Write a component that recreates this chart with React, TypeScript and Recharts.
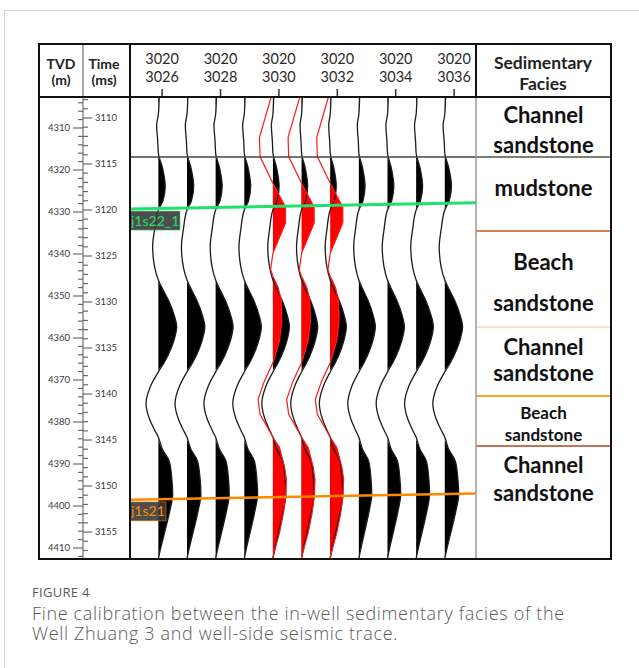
import React from 'react';
import { ComposedChart, Line, Area, XAxis, YAxis, ReferenceLine } from 'recharts';

// ---- display windows -------------------------------------------------------
const timeDomain: [number, number] = [3107.72, 3157.93]; // ms (TWT)
const depthDomain: [number, number] = [4302.62, 4412.62]; // m (TVD)
const traceDomain: [number, number] = [3025.01, 3037.09]; // crossline units, wiggle panel
const headerDomain: [number, number] = [3024.9, 3036.75]; // crossline units, header ticks

// ---- trace identification ---------------------------------------------------
const inlineNo = 3020;
const crosslines = [3026, 3027, 3028, 3029, 3030, 3031, 3032, 3033, 3034, 3035, 3036];
const labelledCrosslines = [3026, 3028, 3030, 3032, 3034, 3036];
const traceGain = [1.0, 0.97, 0.95, 0.93, 0.9, 0.88, 0.88, 0.9, 0.92, 0.94, 0.97];
const synthCrosslines = [3030, 3031, 3032];

// ---- well-side seismic wiggle (amplitude in trace spacings) -----------------
const waveTimes = [
  3107.7, 3109.6, 3110.8, 3112.6, 3113.8, 3115.5, 3117.4, 3119.0, 3120.0, 3122.1,
  3124.0, 3126.2, 3127.6, 3128.6, 3130.0, 3131.5, 3132.7, 3134.0, 3135.0, 3136.6,
  3137.6, 3139.2, 3141.0, 3142.8, 3143.8, 3144.7, 3146.0, 3147.3, 3149.2, 3150.9,
  3152.7, 3154.9, 3157.6, 3157.93,
];
const waveAmps = [
  0.03, 0.0, -0.06, -0.02, 0.0, 0.15, 0.24, 0.16, 0.0, -0.13,
  -0.2, -0.13, 0.0, 0.15, 0.38, 0.56, 0.64, 0.56, 0.45, 0.2,
  0.0, -0.28, -0.43, -0.3, -0.15, 0.0, 0.14, 0.38, 0.47, 0.5,
  0.4, 0.23, 0.02, 0.0,
];

// ---- synthetic seismogram from the well (red) --------------------------------
const synthTimes = [
  3107.7, 3112.1, 3114.2, 3117.1, 3119.7, 3121.4, 3124.7, 3126.5, 3127.2, 3128.4,
  3129.8, 3132.0, 3134.2, 3136.0, 3136.6, 3138.6, 3140.6, 3142.2, 3144.7, 3145.8,
  3148.0, 3149.3, 3151.2, 3152.9, 3155.1, 3157.7, 3157.93,
];
const synthAmps = [
  -0.06, -0.47, -0.45, 0.0, 0.44, 0.44, 0.0, -0.08, 0.0, 0.18,
  0.29, 0.31, 0.23, 0.06, 0.0, -0.3, -0.52, -0.45, 0.0, 0.23,
  0.41, 0.47, 0.44, 0.37, 0.23, 0.0, 0.0,
];

// ---- interpreted horizons (time at left and right edge of the panel) --------
const horizonNames = ['j1s22_1', 'j1s21'];
const horizonLeftTime = [3119.9, 3151.5];
const horizonRightTime = [3119.2, 3150.8];
const horizonColors = ['#22e06c', '#ff8a00'];
const horizonBoxWidth = [50, 36];

// ---- sedimentary facies column -----------------------------------------------
const faciesLabels = [
  ['Channel', 'sandstone'],
  ['mudstone'],
  ['Beach', 'sandstone'],
  ['Channel', 'sandstone'],
  ['Beach', 'sandstone'],
  ['Channel', 'sandstone'],
];
const faciesLabelDepth = [4310.48, 4324.29, 4346.79, 4365.24, 4380.48, 4393.57];
const faciesFontSize = [22, 22, 22, 22, 17, 22];
const faciesLineGap = [30, 0, 41, 26, 22, 28];
const faciesBoundaries = [4316.9, 4334.52, 4357.38, 4373.81, 4385.71];
const boundaryColors = ['#4d5a3c', '#c45a20', '#f7c6a4', '#ffa31a', '#b5431c'];
const boundaryWidths = [1.5, 1.5, 1, 2, 1.5];
const faciesTopBoundaryTime = 3114.24;

// ---- axis ticks ---------------------------------------------------------------
const depthMajorTicks = [4310, 4320, 4330, 4340, 4350, 4360, 4370, 4380, 4390, 4400, 4410];
const timeMajorTicks = [3110, 3115, 3120, 3125, 3130, 3135, 3140, 3145, 3150, 3155];
const depthTicks: number[] = [];
for (let d = 4304; d <= 4412; d += 2) depthTicks.push(d);
const timeTicks: number[] = [];
for (let t = 3108; t <= 3157; t += 1) timeTicks.push(t);

const captionTitle = 'FIGURE 4';
const captionText =
  'Fine calibration between the in-well sedimentary facies of the\nWell Zhuang 3 and well-side seismic trace.';

const FONT = 'Lato, "Open Sans", sans-serif';

const blackRows = crosslines.map((c, i) =>
  waveTimes.map((t, k) => {
    const a = waveAmps[k] * traceGain[i];
    return { t, x: c + a, fill: [c, c + Math.max(0, a)] };
  })
);
const synthRows = synthCrosslines.map((c) =>
  synthTimes.map((t, k) => {
    const a = synthAmps[k];
    return { t, x: c + a, fill: [c, c + Math.max(0, a)] };
  })
);
const faciesRows = faciesLabelDepth.map((d) => ({ d, v: 0.5 }));

const HeaderTick = (props: any) => {
  const { x, y, payload } = props;
  return (
    <g fontFamily={FONT} fontSize={14.5} fill="#2a2a2a" textAnchor="middle">
      <text x={x} y={y - 23}>{inlineNo}</text>
      <text x={x} y={y - 5}>{payload.value}</text>
    </g>
  );
};

const DepthTick = (props: any) => {
  const { x, y, payload } = props;
  const major = depthMajorTicks.includes(payload.value);
  return (
    <g>
      <line x1={major ? x - 10 : x - 5} x2={x} y1={y} y2={y} stroke="#6a6a6a" strokeWidth={1.2} />
      {major && (
        <text x={x - 13} y={y + 3.3} textAnchor="end" fontFamily={FONT} fontSize={9.5} fill="#3a3a3a">
          {payload.value}
        </text>
      )}
    </g>
  );
};

const TimeTick = (props: any) => {
  const { x, y, payload } = props;
  const major = timeMajorTicks.includes(payload.value);
  return (
    <g>
      <line x1={x} x2={major ? x + 9 : x + 5} y1={y} y2={y} stroke="#6a6a6a" strokeWidth={1.2} />
      {major && (
        <text x={x + 12} y={y + 3.3} textAnchor="start" fontFamily={FONT} fontSize={9.5} fill="#3a3a3a">
          {payload.value}
        </text>
      )}
    </g>
  );
};

const HorizonTag = (props: any) => {
  const vb = props.viewBox || {};
  const { name, color, w } = props;
  const top = vb.y + vb.height + 2;
  return (
    <g>
      <rect x={vb.x} y={top} width={w} height={19} fill="#3a3a3a" fillOpacity={0.9} stroke={color} strokeOpacity={0.5} strokeWidth={1} />
      <text x={vb.x + 1} y={top + 14.5} fontFamily={FONT} fontSize={14} fill={color}>
        {name}
      </text>
    </g>
  );
};

const FaciesText = (props: any) => {
  const vb = props.viewBox || {};
  const { lines, size, gap } = props;
  const cx = vb.x + vb.width / 2;
  const n = lines.length;
  return (
    <g fontFamily={FONT} fontWeight={700} fontSize={size} fill="#111" textAnchor="middle">
      {lines.map((s: string, i: number) => (
        <text key={i} x={cx} y={vb.y + (i - (n - 1) / 2) * gap + size * 0.36}>
          {s}
        </text>
      ))}
    </g>
  );
};

export default function App() {
  return (
    <div style={{ position: 'absolute', left: 0, top: 0, width: 639, height: 668, overflow: 'hidden', background: '#fff' }}>
      {/* card outline */}
      <div style={{ position: 'absolute', left: 4, top: 10, width: 700, height: 700, borderLeft: '1px solid #d2d2d2', borderTop: '1px solid #d2d2d2' }} />

      {/* depth / time scale */}
      <div style={{ position: 'absolute', left: 0, top: 0 }}>
        <ComposedChart width={130} height={668} margin={{ top: 97, bottom: 109, left: 43, right: 0 }}>
          <XAxis type="number" domain={[0, 1]} hide />
          <YAxis
            yAxisId="depth"
            type="number"
            domain={depthDomain}
            reversed
            allowDataOverflow
            ticks={depthTicks}
            interval={0}
            width={40}
            tickSize={0}
            tickMargin={0}
            tick={<DepthTick />}
            tickLine={false}
            axisLine={{ stroke: '#8c8c8c', strokeWidth: 1.5 }}
          />
          <YAxis
            yAxisId="time"
            type="number"
            mirror
            domain={timeDomain}
            reversed
            allowDataOverflow
            ticks={timeTicks}
            interval={0}
            tickSize={0}
            tickMargin={0}
            tick={<TimeTick />}
            tickLine={false}
            axisLine={false}
          />
        </ComposedChart>
      </div>

      {/* wiggle panel (vertical layout: time runs downward) */}
      <div style={{ position: 'absolute', left: 0, top: 0 }}>
        <ComposedChart layout="vertical" width={639} height={668} margin={{ top: 47, right: 163, bottom: 109, left: 130 }}>
          <XAxis xAxisId="trace" type="number" domain={traceDomain} allowDataOverflow hide />
          <XAxis
            xAxisId="hdr"
            orientation="top"
            type="number"
            domain={headerDomain}
            allowDataOverflow
            ticks={labelledCrosslines}
            interval={0}
            height={50}
            tickSize={8}
            tickMargin={2}
            axisLine={false}
            tickLine={{ stroke: '#333', strokeWidth: 1.5 }}
            tick={<HeaderTick />}
          />
          <YAxis yAxisId="time" type="number" dataKey="t" domain={timeDomain} allowDataOverflow hide />
          {blackRows.map((rows, i) => (
            <Area
              key={`bf${i}`}
              xAxisId="trace"
              yAxisId="time"
              data={rows}
              dataKey="fill"
              type="monotone"
              stroke="none"
              fill="#000"
              fillOpacity={1}
              isAnimationActive={false}
            />
          ))}
          {blackRows.map((rows, i) => (
            <Line
              key={`bl${i}`}
              xAxisId="trace"
              yAxisId="time"
              data={rows}
              dataKey="x"
              type="monotone"
              stroke="#1c1c1c"
              strokeWidth={1.3}
              dot={false}
              activeDot={false}
              isAnimationActive={false}
            />
          ))}
          {synthRows.map((rows, i) => (
            <Area
              key={`rf${i}`}
              xAxisId="trace"
              yAxisId="time"
              data={rows}
              dataKey="fill"
              type="linear"
              stroke="none"
              fill="#ff0000"
              fillOpacity={1}
              isAnimationActive={false}
            />
          ))}
          {synthRows.map((rows, i) => (
            <Line
              key={`rl${i}`}
              xAxisId="trace"
              yAxisId="time"
              data={rows}
              dataKey="x"
              type="linear"
              stroke="#ff1a1a"
              strokeWidth={1.2}
              dot={false}
              activeDot={false}
              isAnimationActive={false}
            />
          ))}
          <ReferenceLine xAxisId="trace" yAxisId="time" y={faciesTopBoundaryTime} stroke="#444" strokeWidth={1.5} />
          {horizonNames.map((name, i) => (
            <ReferenceLine
              key={name}
              xAxisId="trace"
              yAxisId="time"
              segment={[
                { x: traceDomain[0], y: horizonLeftTime[i] },
                { x: traceDomain[1], y: horizonRightTime[i] },
              ]}
              stroke={horizonColors[i]}
              strokeWidth={i === 0 ? 3 : 2.5}
              label={<HorizonTag name={name} color={horizonColors[i]} w={horizonBoxWidth[i]} />}
            />
          ))}
        </ComposedChart>
      </div>

      {/* facies column */}
      <div style={{ position: 'absolute', left: 0, top: 0 }}>
        <ComposedChart data={faciesRows} width={639} height={668} margin={{ top: 97, bottom: 109, left: 476, right: 28 }}>
          <XAxis xAxisId="col" type="number" dataKey="v" domain={[0, 1]} allowDataOverflow hide />
          <YAxis yAxisId="depth" type="number" dataKey="d" domain={depthDomain} reversed allowDataOverflow hide />
          {faciesBoundaries.map((d, i) => (
            <ReferenceLine
              key={`fb${i}`}
              xAxisId="col"
              yAxisId="depth"
              y={d}
              stroke={boundaryColors[i]}
              strokeWidth={boundaryWidths[i]}
            />
          ))}
          {faciesLabels.map((lines, i) => (
            <ReferenceLine
              key={`fl${i}`}
              xAxisId="col"
              yAxisId="depth"
              y={faciesLabelDepth[i]}
              stroke="#fff"
              strokeOpacity={0}
              label={<FaciesText lines={lines} size={faciesFontSize[i]} gap={faciesLineGap[i]} />}
            />
          ))}
        </ComposedChart>
      </div>

      {/* table frame and column headers */}
      <svg width={639} height={668} style={{ position: 'absolute', left: 0, top: 0, pointerEvents: 'none' }}>
        <line x1={83} x2={83} y1={44} y2={97} stroke="#8c8c8c" strokeWidth={1.5} />
        <line x1={476} x2={476} y1={97} y2={559} stroke="#9a9a9a" strokeWidth={1.5} />
        <line x1={476} x2={476} y1={44} y2={97} stroke="#111" strokeWidth={2} />
        <line x1={130} x2={130} y1={44} y2={559} stroke="#111" strokeWidth={2} />
        <line x1={39} x2={611} y1={97} y2={97} stroke="#111" strokeWidth={2} />
        <rect x={39} y={44} width={572} height={515} fill="none" stroke="#111" strokeWidth={2} />
        <g fontFamily={FONT} fontWeight={700} fill="#222" textAnchor="middle">
          <text x={61} y={69} fontSize={14}>TVD</text>
          <text x={61} y={85} fontSize={14}>(m)</text>
          <text x={104} y={69} fontSize={14}>Time</text>
          <text x={104} y={85} fontSize={14}>(ms)</text>
          <text x={543} y={69} fontSize={17.5}>Sedimentary</text>
          <text x={543} y={90} fontSize={17.5}>Facies</text>
        </g>
      </svg>

      {/* caption */}
      <div style={{ position: 'absolute', left: 32, top: 584, fontFamily: '"Open Sans", sans-serif', fontSize: 13, lineHeight: '16px', color: '#5a5a5a', letterSpacing: 0.3 }}>
        {captionTitle}
      </div>
      <div style={{ position: 'absolute', left: 32, top: 602.5, fontFamily: '"Open Sans", sans-serif', fontWeight: 300, fontSize: 18, lineHeight: '20px', letterSpacing: 0.65, color: '#5a5a5a', whiteSpace: 'pre-line' }}>
        {captionText}
      </div>
    </div>
  );
}
